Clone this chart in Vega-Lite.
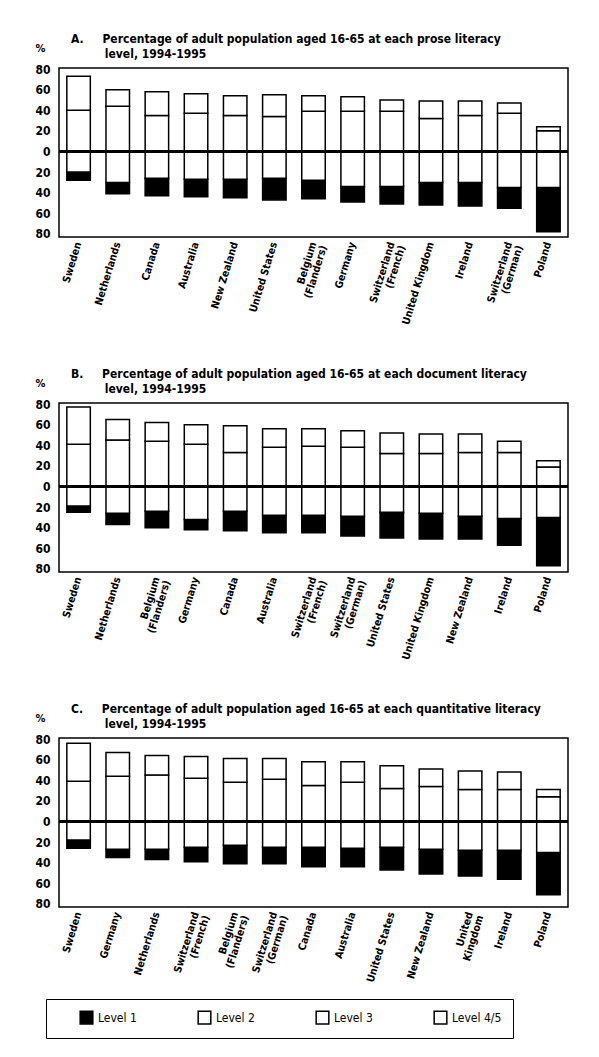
{
  "$schema": "https://vega.github.io/schema/vega-lite/v6.json",
  "background": "white",
  "padding": {"left": 34, "top": 32, "right": 5, "bottom": 5},
  "spacing": 40,
  "datasets": {
    "prose": [
      {"country":"Sweden","level":"Level 1","pct":-8},{"country":"Sweden","level":"Level 2","pct":-20},{"country":"Sweden","level":"Level 3","pct":40},{"country":"Sweden","level":"Level 4/5","pct":33},
      {"country":"Netherlands","level":"Level 1","pct":-11},{"country":"Netherlands","level":"Level 2","pct":-30},{"country":"Netherlands","level":"Level 3","pct":44},{"country":"Netherlands","level":"Level 4/5","pct":16},
      {"country":"Canada","level":"Level 1","pct":-17},{"country":"Canada","level":"Level 2","pct":-26},{"country":"Canada","level":"Level 3","pct":35},{"country":"Canada","level":"Level 4/5","pct":23},
      {"country":"Australia","level":"Level 1","pct":-17},{"country":"Australia","level":"Level 2","pct":-27},{"country":"Australia","level":"Level 3","pct":37},{"country":"Australia","level":"Level 4/5","pct":19},
      {"country":"New Zealand","level":"Level 1","pct":-18},{"country":"New Zealand","level":"Level 2","pct":-27},{"country":"New Zealand","level":"Level 3","pct":35},{"country":"New Zealand","level":"Level 4/5","pct":19},
      {"country":"United States","level":"Level 1","pct":-21},{"country":"United States","level":"Level 2","pct":-26},{"country":"United States","level":"Level 3","pct":34},{"country":"United States","level":"Level 4/5","pct":21},
      {"country":"Belgium (Flanders)","level":"Level 1","pct":-18},{"country":"Belgium (Flanders)","level":"Level 2","pct":-28},{"country":"Belgium (Flanders)","level":"Level 3","pct":39},{"country":"Belgium (Flanders)","level":"Level 4/5","pct":15},
      {"country":"Germany","level":"Level 1","pct":-15},{"country":"Germany","level":"Level 2","pct":-34},{"country":"Germany","level":"Level 3","pct":39},{"country":"Germany","level":"Level 4/5","pct":14},
      {"country":"Switzerland (French)","level":"Level 1","pct":-17},{"country":"Switzerland (French)","level":"Level 2","pct":-34},{"country":"Switzerland (French)","level":"Level 3","pct":39},{"country":"Switzerland (French)","level":"Level 4/5","pct":11},
      {"country":"United Kingdom","level":"Level 1","pct":-22},{"country":"United Kingdom","level":"Level 2","pct":-30},{"country":"United Kingdom","level":"Level 3","pct":32},{"country":"United Kingdom","level":"Level 4/5","pct":17},
      {"country":"Ireland","level":"Level 1","pct":-23},{"country":"Ireland","level":"Level 2","pct":-30},{"country":"Ireland","level":"Level 3","pct":35},{"country":"Ireland","level":"Level 4/5","pct":14},
      {"country":"Switzerland (German)","level":"Level 1","pct":-20},{"country":"Switzerland (German)","level":"Level 2","pct":-35},{"country":"Switzerland (German)","level":"Level 3","pct":37},{"country":"Switzerland (German)","level":"Level 4/5","pct":10},
      {"country":"Poland","level":"Level 1","pct":-43},{"country":"Poland","level":"Level 2","pct":-35},{"country":"Poland","level":"Level 3","pct":20},{"country":"Poland","level":"Level 4/5","pct":4}
    ],
    "document": [
      {"country":"Sweden","level":"Level 1","pct":-6},{"country":"Sweden","level":"Level 2","pct":-19},{"country":"Sweden","level":"Level 3","pct":41},{"country":"Sweden","level":"Level 4/5","pct":36},
      {"country":"Netherlands","level":"Level 1","pct":-11},{"country":"Netherlands","level":"Level 2","pct":-26},{"country":"Netherlands","level":"Level 3","pct":45},{"country":"Netherlands","level":"Level 4/5","pct":20},
      {"country":"Belgium (Flanders)","level":"Level 1","pct":-16},{"country":"Belgium (Flanders)","level":"Level 2","pct":-24},{"country":"Belgium (Flanders)","level":"Level 3","pct":44},{"country":"Belgium (Flanders)","level":"Level 4/5","pct":18},
      {"country":"Germany","level":"Level 1","pct":-10},{"country":"Germany","level":"Level 2","pct":-32},{"country":"Germany","level":"Level 3","pct":41},{"country":"Germany","level":"Level 4/5","pct":19},
      {"country":"Canada","level":"Level 1","pct":-19},{"country":"Canada","level":"Level 2","pct":-24},{"country":"Canada","level":"Level 3","pct":33},{"country":"Canada","level":"Level 4/5","pct":26},
      {"country":"Australia","level":"Level 1","pct":-17},{"country":"Australia","level":"Level 2","pct":-28},{"country":"Australia","level":"Level 3","pct":38},{"country":"Australia","level":"Level 4/5","pct":18},
      {"country":"Switzerland (French)","level":"Level 1","pct":-17},{"country":"Switzerland (French)","level":"Level 2","pct":-28},{"country":"Switzerland (French)","level":"Level 3","pct":39},{"country":"Switzerland (French)","level":"Level 4/5","pct":17},
      {"country":"Switzerland (German)","level":"Level 1","pct":-19},{"country":"Switzerland (German)","level":"Level 2","pct":-29},{"country":"Switzerland (German)","level":"Level 3","pct":38},{"country":"Switzerland (German)","level":"Level 4/5","pct":16},
      {"country":"United States","level":"Level 1","pct":-25},{"country":"United States","level":"Level 2","pct":-25},{"country":"United States","level":"Level 3","pct":32},{"country":"United States","level":"Level 4/5","pct":20},
      {"country":"United Kingdom","level":"Level 1","pct":-25},{"country":"United Kingdom","level":"Level 2","pct":-26},{"country":"United Kingdom","level":"Level 3","pct":32},{"country":"United Kingdom","level":"Level 4/5","pct":19},
      {"country":"New Zealand","level":"Level 1","pct":-22},{"country":"New Zealand","level":"Level 2","pct":-29},{"country":"New Zealand","level":"Level 3","pct":33},{"country":"New Zealand","level":"Level 4/5","pct":18},
      {"country":"Ireland","level":"Level 1","pct":-26},{"country":"Ireland","level":"Level 2","pct":-31},{"country":"Ireland","level":"Level 3","pct":33},{"country":"Ireland","level":"Level 4/5","pct":11},
      {"country":"Poland","level":"Level 1","pct":-47},{"country":"Poland","level":"Level 2","pct":-30},{"country":"Poland","level":"Level 3","pct":19},{"country":"Poland","level":"Level 4/5","pct":6}
    ],
    "quant": [
      {"country":"Sweden","level":"Level 1","pct":-8},{"country":"Sweden","level":"Level 2","pct":-18},{"country":"Sweden","level":"Level 3","pct":39},{"country":"Sweden","level":"Level 4/5","pct":37},
      {"country":"Germany","level":"Level 1","pct":-8},{"country":"Germany","level":"Level 2","pct":-27},{"country":"Germany","level":"Level 3","pct":44},{"country":"Germany","level":"Level 4/5","pct":23},
      {"country":"Netherlands","level":"Level 1","pct":-10},{"country":"Netherlands","level":"Level 2","pct":-27},{"country":"Netherlands","level":"Level 3","pct":45},{"country":"Netherlands","level":"Level 4/5","pct":19},
      {"country":"Switzerland (French)","level":"Level 1","pct":-14},{"country":"Switzerland (French)","level":"Level 2","pct":-25},{"country":"Switzerland (French)","level":"Level 3","pct":42},{"country":"Switzerland (French)","level":"Level 4/5","pct":21},
      {"country":"Belgium (Flanders)","level":"Level 1","pct":-18},{"country":"Belgium (Flanders)","level":"Level 2","pct":-23},{"country":"Belgium (Flanders)","level":"Level 3","pct":38},{"country":"Belgium (Flanders)","level":"Level 4/5","pct":23},
      {"country":"Switzerland (German)","level":"Level 1","pct":-16},{"country":"Switzerland (German)","level":"Level 2","pct":-25},{"country":"Switzerland (German)","level":"Level 3","pct":41},{"country":"Switzerland (German)","level":"Level 4/5","pct":20},
      {"country":"Canada","level":"Level 1","pct":-19},{"country":"Canada","level":"Level 2","pct":-25},{"country":"Canada","level":"Level 3","pct":35},{"country":"Canada","level":"Level 4/5","pct":23},
      {"country":"Australia","level":"Level 1","pct":-18},{"country":"Australia","level":"Level 2","pct":-26},{"country":"Australia","level":"Level 3","pct":38},{"country":"Australia","level":"Level 4/5","pct":20},
      {"country":"United States","level":"Level 1","pct":-22},{"country":"United States","level":"Level 2","pct":-25},{"country":"United States","level":"Level 3","pct":32},{"country":"United States","level":"Level 4/5","pct":22},
      {"country":"New Zealand","level":"Level 1","pct":-24},{"country":"New Zealand","level":"Level 2","pct":-27},{"country":"New Zealand","level":"Level 3","pct":34},{"country":"New Zealand","level":"Level 4/5","pct":17},
      {"country":"United Kingdom","level":"Level 1","pct":-25},{"country":"United Kingdom","level":"Level 2","pct":-28},{"country":"United Kingdom","level":"Level 3","pct":31},{"country":"United Kingdom","level":"Level 4/5","pct":18},
      {"country":"Ireland","level":"Level 1","pct":-28},{"country":"Ireland","level":"Level 2","pct":-28},{"country":"Ireland","level":"Level 3","pct":31},{"country":"Ireland","level":"Level 4/5","pct":17},
      {"country":"Poland","level":"Level 1","pct":-41},{"country":"Poland","level":"Level 2","pct":-30},{"country":"Poland","level":"Level 3","pct":24},{"country":"Poland","level":"Level 4/5","pct":7}
    ]
  },
  "vconcat": [
    {
      "data": {"name": "prose"},
      "width": 509, "height": 169,
      "title": {"text": ["A.\u00a0\u00a0\u00a0\u00a0\u00a0Percentage of adult population aged 16-65 at each prose literacy", "\u200b\u00a0\u00a0\u00a0\u00a0\u00a0\u00a0\u00a0\u00a0\u00a0level, 1994-1995"]},
      "layer": [
        {"transform": [{"filter": "datum.pct > 0"}], "mark": "bar",
         "encoding": {
           "x": {"field": "country", "type": "nominal", "sort": null, "scale": {"paddingInner": 0.4, "paddingOuter": 0.2},
                 "axis": {"labelExpr": "split(replace(datum.label, ' (', '| ('), '|')"}},
           "y": {"field": "pct", "type": "quantitative", "stack": "zero", "scale": {"domain": [-83, 81], "nice": false, "zero": false},
                 "axis": {"values": [-80, -60, -40, -20, 0, 20, 40, 60, 80], "tickCount": 9, "labelExpr": "abs(datum.value)", "labelOverlap": false, "title": "%"}},
           "color": {"field": "level", "type": "nominal", "scale": {"domain": ["Level 1", "Level 2", "Level 3", "Level 4/5"], "range": ["black", "white", "white", "white"]},
                     "legend": {"orient": "none", "legendX": -13, "legendY": 931, "direction": "horizontal",
                                "labelExpr": "datum.label == 'Level 4/5' ? datum.label + '\u00a0\u00a0\u00a0\u00a0\u00a0\u00a0\u00a0\u00a0\u00a0\u00a0\u00a0\u00a0\u00a0\u00a0\u00a0\u00a0' : datum.label"}},
           "order": {"field": "level", "sort": "ascending"}}},
        {"transform": [{"filter": "datum.pct < 0"}], "mark": "bar",
         "encoding": {
           "x": {"field": "country", "type": "nominal", "sort": null},
           "y": {"field": "pct", "type": "quantitative", "stack": "zero",
                 "axis": {"values": [-80, -60, -40, -20, 0, 20, 40, 60, 80], "tickCount": 9, "labelExpr": "abs(datum.value)", "labelOverlap": false, "title": "%"}},
           "color": {"field": "level", "type": "nominal"},
           "order": {"field": "level", "sort": "descending"}}},
        {"mark": {"type": "rule", "strokeWidth": 3, "color": "black"}, "encoding": {"y": {"datum": 0, "type": "quantitative",
                 "axis": {"values": [-80, -60, -40, -20, 0, 20, 40, 60, 80], "tickCount": 9, "labelExpr": "abs(datum.value)", "labelOverlap": false, "title": "%"}}}}
      ]
    },
    {
      "data": {"name": "document"},
      "width": 509, "height": 169,
      "title": {"text": ["B.\u00a0\u00a0\u00a0\u00a0\u00a0Percentage of adult population aged 16-65 at each document literacy", "\u200b\u00a0\u00a0\u00a0\u00a0\u00a0\u00a0\u00a0\u00a0\u00a0level, 1994-1995"]},
      "layer": [
        {"transform": [{"filter": "datum.pct > 0"}], "mark": "bar",
         "encoding": {
           "x": {"field": "country", "type": "nominal", "sort": null, "scale": {"paddingInner": 0.4, "paddingOuter": 0.2},
                 "axis": {"labelExpr": "split(replace(datum.label, ' (', '| ('), '|')"}},
           "y": {"field": "pct", "type": "quantitative", "stack": "zero", "scale": {"domain": [-83, 81], "nice": false, "zero": false},
                 "axis": {"values": [-80, -60, -40, -20, 0, 20, 40, 60, 80], "tickCount": 9, "labelExpr": "abs(datum.value)", "labelOverlap": false, "title": "%"}},
           "color": {"field": "level", "type": "nominal"},
           "order": {"field": "level", "sort": "ascending"}}},
        {"transform": [{"filter": "datum.pct < 0"}], "mark": "bar",
         "encoding": {
           "x": {"field": "country", "type": "nominal", "sort": null},
           "y": {"field": "pct", "type": "quantitative", "stack": "zero",
                 "axis": {"values": [-80, -60, -40, -20, 0, 20, 40, 60, 80], "tickCount": 9, "labelExpr": "abs(datum.value)", "labelOverlap": false, "title": "%"}},
           "color": {"field": "level", "type": "nominal"},
           "order": {"field": "level", "sort": "descending"}}},
        {"mark": {"type": "rule", "strokeWidth": 3, "color": "black"}, "encoding": {"y": {"datum": 0, "type": "quantitative",
                 "axis": {"values": [-80, -60, -40, -20, 0, 20, 40, 60, 80], "tickCount": 9, "labelExpr": "abs(datum.value)", "labelOverlap": false, "title": "%"}}}}
      ]
    },
    {
      "data": {"name": "quant"},
      "width": 509, "height": 169,
      "title": {"text": ["C.\u00a0\u00a0\u00a0\u00a0\u00a0Percentage of adult population aged 16-65 at each quantitative literacy", "\u200b\u00a0\u00a0\u00a0\u00a0\u00a0\u00a0\u00a0\u00a0\u00a0level, 1994-1995"]},
      "layer": [
        {"transform": [{"filter": "datum.pct > 0"}], "mark": "bar",
         "encoding": {
           "x": {"field": "country", "type": "nominal", "sort": null, "scale": {"paddingInner": 0.4, "paddingOuter": 0.2},
                 "axis": {"labelExpr": "split(replace(replace(datum.label, ' (', '| ('), 'United Kingdom', 'United|Kingdom'), '|')"}},
           "y": {"field": "pct", "type": "quantitative", "stack": "zero", "scale": {"domain": [-83, 81], "nice": false, "zero": false},
                 "axis": {"values": [-80, -60, -40, -20, 0, 20, 40, 60, 80], "tickCount": 9, "labelExpr": "abs(datum.value)", "labelOverlap": false, "title": "%"}},
           "color": {"field": "level", "type": "nominal"},
           "order": {"field": "level", "sort": "ascending"}}},
        {"transform": [{"filter": "datum.pct < 0"}], "mark": "bar",
         "encoding": {
           "x": {"field": "country", "type": "nominal", "sort": null},
           "y": {"field": "pct", "type": "quantitative", "stack": "zero",
                 "axis": {"values": [-80, -60, -40, -20, 0, 20, 40, 60, 80], "tickCount": 9, "labelExpr": "abs(datum.value)", "labelOverlap": false, "title": "%"}},
           "color": {"field": "level", "type": "nominal"},
           "order": {"field": "level", "sort": "descending"}}},
        {"mark": {"type": "rule", "strokeWidth": 3, "color": "black"}, "encoding": {"y": {"datum": 0, "type": "quantitative",
                 "axis": {"values": [-80, -60, -40, -20, 0, 20, 40, 60, 80], "tickCount": 9, "labelExpr": "abs(datum.value)", "labelOverlap": false, "title": "%"}}}}
      ]
    }
  ],
  "resolve": {"scale": {"color": "shared"}, "legend": {"color": "shared"}},
  "config": {
    "font": "Liberation Sans Narrow, DejaVu Sans Condensed, sans-serif",
    "view": {"stroke": "black", "strokeWidth": 1.5},
    "bar": {"stroke": "black", "strokeWidth": 1.5},
    "axis": {"grid": false, "ticks": false, "domain": false, "labelColor": "black", "labelFontWeight": "bold"},
    "axisX": {"title": null, "labelAngle": -73, "labelAlign": "right", "labelBaseline": "middle", "labelPadding": 5, "labelFontSize": 10.5, "labelLimit": 0, "labelLineHeight": 11},
    "axisY": {"labelFontSize": 12, "labelPadding": 9, "labelOverlap": false, "titleAngle": 0, "titleAlign": "center", "titleBaseline": "middle", "titleX": -19, "titleY": -20, "titleFontSize": 11, "titleFontWeight": "bold", "titleColor": "black"},
    "title": {"anchor": "start", "frame": "group", "dx": 12, "offset": -19, "fontSize": 12, "fontWeight": "bold", "lineHeight": 15, "color": "black"},
    "legend": {"title": null, "symbolType": "square", "symbolSize": 160, "symbolStrokeColor": "black", "symbolStrokeWidth": 1.5, "labelFontSize": 12, "labelColor": "black", "columnPadding": 38, "padding": 11, "strokeColor": "black", "symbolOffset": 22, "labelLimit": 0}
  }
}
